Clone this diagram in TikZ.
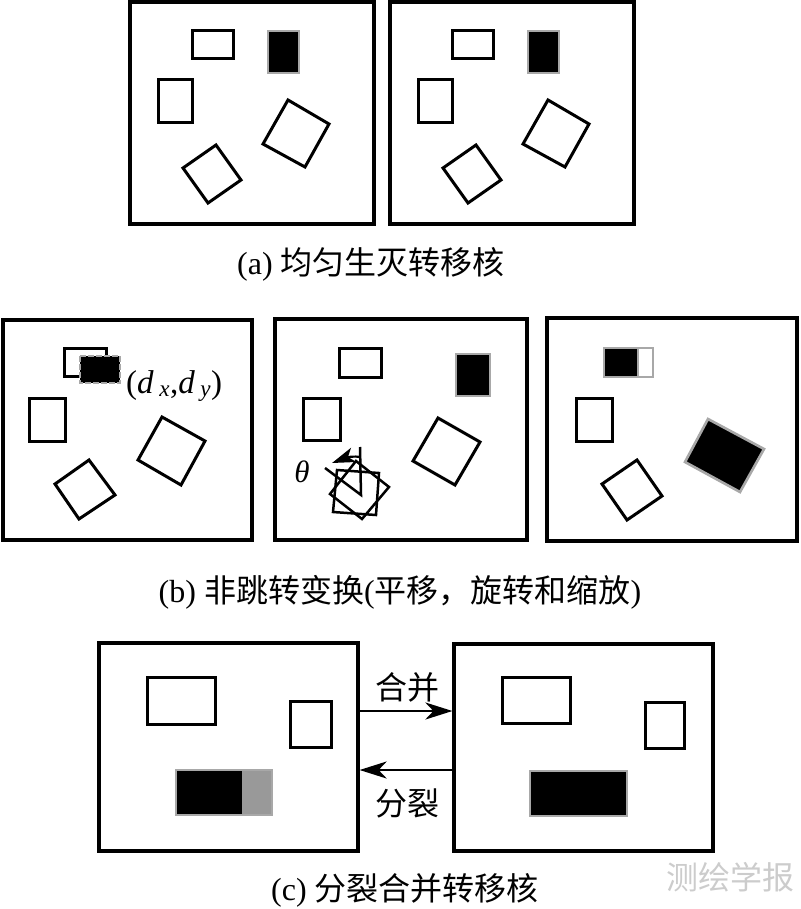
\documentclass[tikz,border=0pt]{standalone}
\usepackage{fontspec}
\setmainfont{Liberation Serif}
\newfontfamily\cjk{Noto Sans CJK SC}
\usetikzlibrary{arrows.meta}
\definecolor{bordergray}{HTML}{A8A8A8}
\definecolor{midgray}{HTML}{999999}
\begin{document}
\begin{tikzpicture}[x=1pt,y=-1pt,
 frame/.style={draw=black,line width=3.2pt},
 obj/.style={draw=black,line width=3pt,line join=miter},
 blk/.style={fill=black,draw=bordergray,line width=2.6pt},
 thinobj/.style={draw=black,line width=2.5pt},
 captext/.style={font=\fontsize{32}{32}\selectfont, inner sep=0pt},
 lab/.style={font=\cjk\fontsize{32}{32}\selectfont, inner sep=0pt},
 conn/.style={line width=2.6pt,-{Stealth[length=27pt,width=17pt,inset=8pt]}}
]
\useasboundingbox (0,0) rectangle (800,909);

% ---------- (a) ----------
\foreach \dx in {0,260} {
\begin{scope}[xshift=\dx pt]
\draw[frame] (130,2) rectangle (374,224);
\draw[obj] (192,31) rectangle (233,59);
\draw[blk] (268,31) rectangle (299,73);
\draw[obj] (158,80) rectangle (192,123);
\draw[obj] (288,100) -- (329,124) -- (305,167) -- (263,144) -- cycle;
\draw[obj] (216,145) -- (241,180) -- (208,203) -- (183,168) -- cycle;
\end{scope}
}
\node[captext] (capa) at (371,264) {(a) {\cjk 均匀生灭转移核}};

% ---------- (b) left ----------
\draw[frame] (3,320) rectangle (252,540);
\draw[obj] (64,348) rectangle (106,376);
\draw[fill=black,draw=bordergray,line width=2.6pt,dash pattern=on 6pt off 2pt] (80,356) rectangle (120,383);
\node[anchor=west,inner sep=0pt,font=\fontsize{33}{33}\selectfont] (dxdy) at (126,386)
  {(\textit{d}\,\textsubscript{\textit{x}},\textit{d}\,\textsubscript{\textit{y}})};
\draw[obj] (29,398) rectangle (65,441);
\draw[obj] (162,417) -- (205,441) -- (181,485) -- (138,460) -- cycle;
\draw[obj] (89,460) -- (115,495) -- (79,519) -- (55,484) -- cycle;

% ---------- (b) middle ----------
\draw[frame] (275,319) rectangle (527,540);
\draw[obj] (339,348) rectangle (381,377);
\draw[blk] (456,354) rectangle (490,396);
\draw[obj] (303,398) rectangle (340,440);
\draw[obj] (438,418) -- (480,442) -- (455,485) -- (413,461) -- cycle;
\draw[thinobj] (337,470) -- (379,473) -- (376,515) -- (333,512) -- cycle;
\draw[thinobj] (356,461) -- (389,487) -- (362,519) -- (330,494) -- cycle;
\draw[thinobj] (360,447) -- (361,495) -- (325,468);
\draw[line width=2.2pt,-{Stealth[length=23pt,width=15pt,inset=6pt]}]
  (360,457) .. controls (355,456) and (348,457) .. (332,463);
\node[inner sep=0pt,font=\itshape\fontsize{31}{31}\selectfont] (theta) at (302,472) {θ};

% ---------- (b) right ----------
\draw[frame] (547,318) rectangle (797,541);
\fill[black] (604,348) rectangle (638,377);
\draw[draw=bordergray,line width=2.6pt] (604,348) rectangle (653,377);
\draw[draw=bordergray,line width=2.6pt] (638,348) -- (638,377);
\draw[obj] (576,398) rectangle (612,441);
\draw[obj] (637,460) -- (662,496) -- (627,520) -- (602,484) -- cycle;
\draw[blk] (708,419) -- (764,449) -- (740,492) -- (685,462) -- cycle;

\node[captext] (capb) at (400,592) {(b) {\cjk 非跳转变换}({\cjk 平移，旋转和缩放})};

% ---------- (c) ----------
\node[frame,minimum width=259pt,minimum height=208pt,inner sep=0pt] (cL) at (228.5,747) {};
\node[frame,minimum width=259pt,minimum height=207pt,inner sep=0pt] (cR) at (583.5,747.5) {};
\draw[obj] (147,677) rectangle (215,724);
\draw[obj] (290,701) rectangle (331,747);
\fill[black] (176,770) rectangle (242,815);
\fill[midgray] (242,770) rectangle (272,815);
\draw[draw=bordergray,line width=2.6pt] (176,770) rectangle (272,815);
\draw[obj] (502,677) rectangle (570,723);
\draw[obj] (645,702) rectangle (684,748);
\draw[blk] (530,771) rectangle (627,816);
\coordinate (m1) at (0,711);
\coordinate (m2) at (0,770);
\draw[conn] (cL.east |- m1) -- (cR.west |- m1);
\draw[conn] (cR.west |- m2) -- (cL.east |- m2);
\node[lab] (merge) at (407,687) {合并};
\node[lab] (split) at (407,803) {分裂};

\node[captext] (capc) at (405,890) {(c) {\cjk 分裂合并转移核}};
\node[font=\cjk\fontsize{32}{32}\selectfont,text=black!20,inner sep=0pt] (wm) at (730,877) {测绘学报};
\end{tikzpicture}
\end{document}
